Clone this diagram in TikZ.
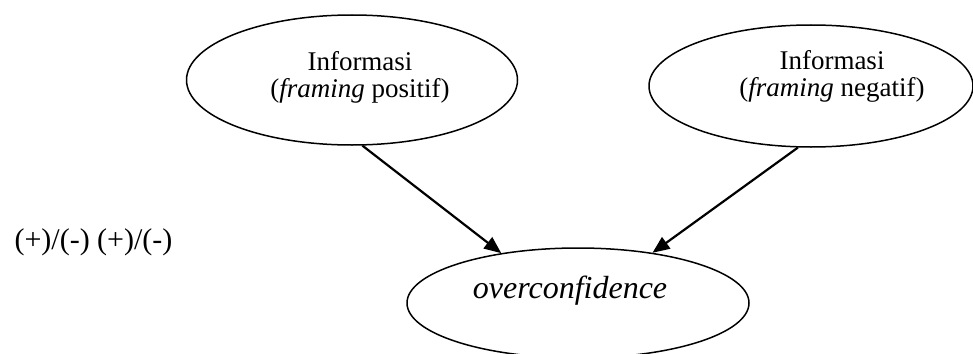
\documentclass[tikz,border=0pt]{standalone}
\usepackage{fontspec}
\setmainfont{Liberation Serif}
\usetikzlibrary{shapes.geometric,arrows.meta}
\begin{document}
\begin{tikzpicture}[x=1pt,y=-1pt,
  oval/.style={draw=black, ellipse, line width=1.5pt, inner sep=0pt},
  info/.style={align=center, font=\fontsize{27}{27}\selectfont},
  link/.style={line width=2.2pt, -{Triangle[length=17pt,width=14pt]}}]
\useasboundingbox (0,0) rectangle (973,353);
\clip (0,0) rectangle (973,353);
\node[oval, minimum width=331pt, minimum height=130pt] (pos) at (352,80) {};
\node[info] (postext) at (360,77) {Informasi\\(\textit{framing} positif)};
\node[oval, minimum width=324pt, minimum height=122pt] (neg) at (811,86) {};
\node[info] (negtext) at (832,76) {Informasi\\(\textit{framing} negatif)};
\node[oval, minimum width=342pt, minimum height=110pt] (oc) at (578,303) {};
\node[font=\fontsize{32}{34}\selectfont\itshape] (octext) at (570,291) {overconfidence};
\node[anchor=west, font=\fontsize{30}{32}\selectfont] (sign) at (11,242) {(+)/(-) (+)/(-)};
\draw[link] (pos.-81) -- (oc.147);
\draw[link] (neg.-102) -- (oc.34);
\end{tikzpicture}
\end{document}
